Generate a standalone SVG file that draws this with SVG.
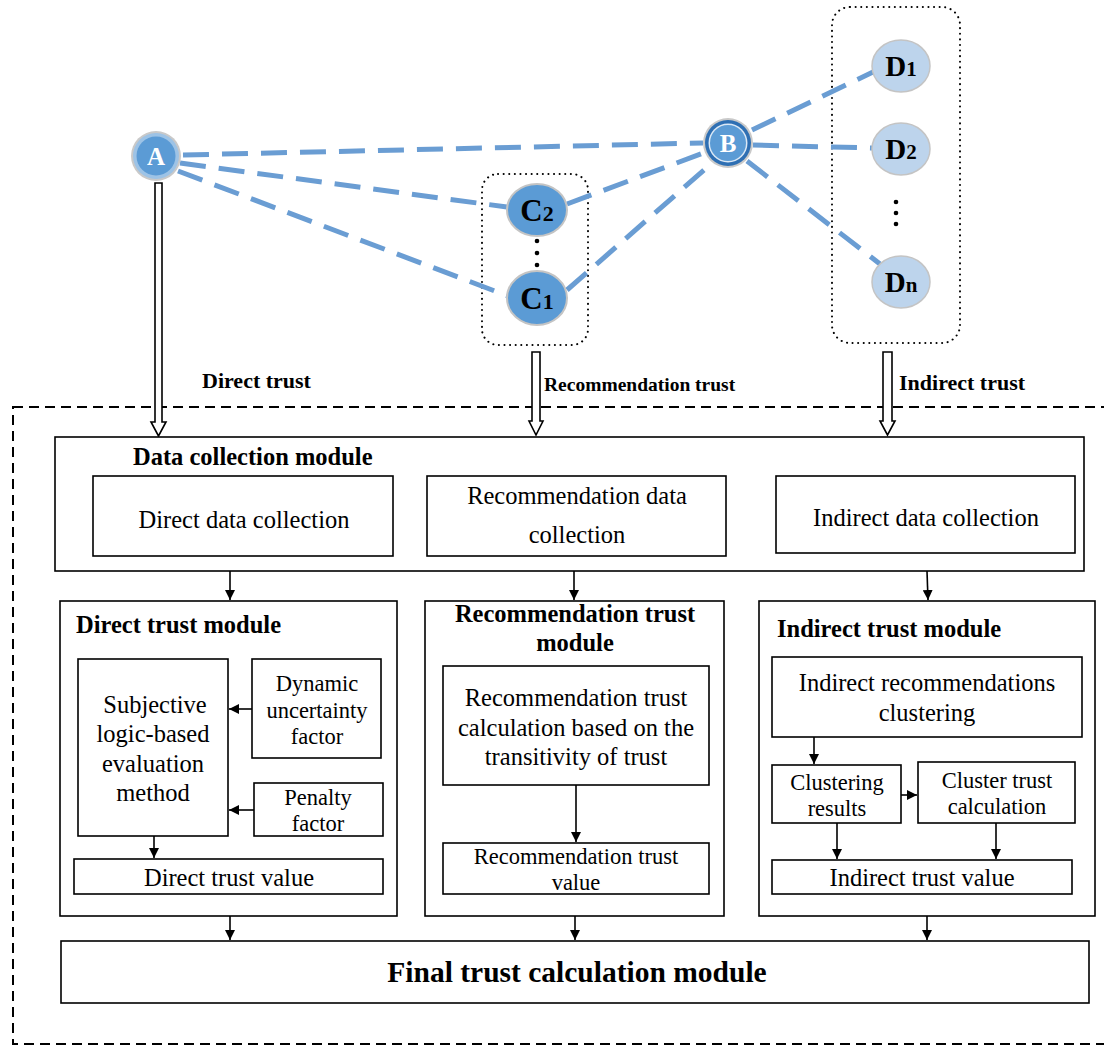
<svg xmlns="http://www.w3.org/2000/svg" width="1104" height="1046" viewBox="0 0 1104 1046">
  <defs>
    <marker id="ah" viewBox="0 0 10 10" refX="10" refY="5" markerWidth="10" markerHeight="10" markerUnits="userSpaceOnUse" orient="auto">
      <path d="M0,0 L10,5 L0,10 z" fill="#000"/>
    </marker>
    <style>
      .box { fill: #fff; stroke: #000; stroke-width: 1.6; }
      .t { font-family: "Liberation Serif", "Times New Roman", serif; fill: #000; }
      .r20 { font-size: 24.5px; }
      .r18 { font-size: 22.5px; }
      .b20 { font-size: 24.5px; font-weight: bold; }
      .b18 { font-size: 22px; font-weight: bold; }
      .mid { text-anchor: middle; }
      .conn { stroke: #000; stroke-width: 1.6; fill: none; marker-end: url(#ah); }
      .link { stroke: #6a9dd3; stroke-width: 5; stroke-dasharray: 26 13; fill: none; }
      .dotted { fill: none; stroke: #000; stroke-width: 2; stroke-dasharray: 0.1 5.5; stroke-linecap: round; }
      .hollow { fill: #fff; stroke: #000; stroke-width: 1.6; }
      .nodeLbl { font-family: "Liberation Serif", "Times New Roman", serif; font-weight: bold; text-anchor: middle; }
    </style>
  </defs>

  <!-- outer dashed frame -->
  <rect x="13" y="407" width="1100" height="637" fill="none" stroke="#000" stroke-width="2" stroke-dasharray="10 6"/>

  <!-- group containers -->
  <rect id="groupC" x="482" y="174" width="106" height="171" rx="16" class="dotted"/>
  <rect id="groupD" x="832" y="7" width="128" height="336" rx="18" class="dotted"/>

  <!-- trust links -->
  <g id="links">
    <line class="link" x1="183" y1="155" x2="703" y2="143"/>
    <line class="link" x1="180" y1="163" x2="507" y2="207"/>
    <line class="link" x1="178" y1="171" x2="508" y2="296"/>
    <line class="link" x1="567" y1="204" x2="706" y2="152"/>
    <line class="link" x1="567" y1="290" x2="712" y2="163"/>
    <line class="link" x1="752" y1="130" x2="873" y2="72"/>
    <line class="link" x1="753" y1="145" x2="872" y2="148"/>
    <line class="link" x1="747" y1="161" x2="880" y2="264"/>
  </g>

  <!-- peer nodes -->
  <g id="nodeA">
    <circle cx="156" cy="156" r="25" fill="#c9c9c9"/>
    <circle cx="156" cy="156" r="23" fill="#9dc3e6"/>
    <circle cx="156" cy="156" r="19.5" fill="#5b9bd5"/>
    <text x="156" y="165" class="nodeLbl" font-size="25" fill="#fff">A</text>
  </g>
  <g id="nodeB">
    <circle cx="728" cy="143" r="25" fill="#c9c9c9"/>
    <circle cx="728" cy="143" r="23" fill="#2e6fb3"/>
    <circle cx="728" cy="143" r="19.5" fill="#dbe8f5"/>
    <circle cx="728" cy="143" r="18" fill="#5b9bd5"/>
    <text x="728" y="152" class="nodeLbl" font-size="25" fill="#fff">B</text>
  </g>
  <g id="nodeC2">
    <ellipse cx="537" cy="210" rx="30" ry="26" fill="#5b9bd5" stroke="#c4c4c4" stroke-width="2"/>
    <text x="537" y="221" class="nodeLbl" font-size="31" fill="#000">C<tspan font-size="22">2</tspan></text>
  </g>
  <g id="dotsC" fill="#000">
    <circle cx="537" cy="241" r="2.3"/>
    <circle cx="537" cy="253" r="2.3"/>
    <circle cx="537" cy="265" r="2.3"/>
  </g>
  <g id="nodeC1">
    <ellipse cx="537" cy="298" rx="30" ry="27" fill="#5b9bd5" stroke="#c4c4c4" stroke-width="2"/>
    <text x="537" y="309" class="nodeLbl" font-size="31" fill="#000">C<tspan font-size="22">1</tspan></text>
  </g>
  <g id="nodeD1">
    <ellipse cx="901" cy="66" rx="29" ry="26" fill="#bdd4ec" stroke="#c4c4c4" stroke-width="1.5"/>
    <text x="901" y="76" class="nodeLbl" font-size="29" fill="#000">D<tspan font-size="21">1</tspan></text>
  </g>
  <g id="nodeD2">
    <ellipse cx="901" cy="149" rx="29" ry="26" fill="#bdd4ec" stroke="#c4c4c4" stroke-width="1.5"/>
    <text x="901" y="159" class="nodeLbl" font-size="29" fill="#000">D<tspan font-size="21">2</tspan></text>
  </g>
  <g id="dotsD" fill="#000">
    <circle cx="896" cy="202" r="2.3"/>
    <circle cx="896" cy="213" r="2.3"/>
    <circle cx="896" cy="224" r="2.3"/>
  </g>
  <g id="nodeDn">
    <ellipse cx="901" cy="282" rx="29" ry="26" fill="#bdd4ec" stroke="#c4c4c4" stroke-width="1.5"/>
    <text x="901" y="292" class="nodeLbl" font-size="29" fill="#000">D<tspan font-size="21">n</tspan></text>
  </g>

  <!-- hollow input arrows -->
  <g id="inputArrows">
    <path class="hollow" d="M155,183 L162,183 L162,422 L166,422 L158.5,436 L151,422 L155,422 z"/>
    <path class="hollow" d="M532,352 L540,352 L540,421 L543,421 L536,435 L529,421 L532,421 z"/>
    <path class="hollow" d="M883,352 L892,352 L892,421 L895,421 L887.5,435 L880,421 L883,421 z"/>
  </g>
  <text x="202" y="388" class="t b18">Direct trust</text>
  <text x="544" y="391" class="t" font-size="19.5" font-weight="bold">Recommendation trust</text>
  <text x="899" y="390" class="t b18">Indirect trust</text>

  <!-- data collection module -->
  <g id="dataCollection">
    <rect x="55" y="437" width="1029" height="134" class="box"/>
    <text x="133" y="465" class="t b20">Data collection module</text>
    <rect x="93" y="476" width="300" height="80" class="box"/>
    <text x="244" y="528" class="t r20 mid">Direct data collection</text>
    <rect x="427" y="476" width="299" height="80" class="box"/>
    <text x="577" y="504" class="t r20 mid">Recommendation data</text>
    <text x="577" y="543" class="t r20 mid">collection</text>
    <rect x="776" y="476" width="299" height="77" class="box"/>
    <text x="926" y="526" class="t r20 mid">Indirect data collection</text>
  </g>

  <!-- direct trust module -->
  <g id="directTrust">
    <rect x="60" y="601" width="337" height="315" class="box"/>
    <text x="76" y="633" class="t b20">Direct trust module</text>
    <rect x="78" y="659" width="150" height="177" class="box"/>
    <text x="155" y="713" class="t r20 mid">Subjective</text>
    <text x="153" y="742" class="t r20 mid">logic-based</text>
    <text x="153" y="772" class="t r20 mid">evaluation</text>
    <text x="153" y="801" class="t r20 mid">method</text>
    <rect x="252" y="659" width="129" height="99" class="box"/>
    <text x="317" y="691" class="t r18 mid">Dynamic</text>
    <text x="317" y="718" class="t r18 mid">uncertainty</text>
    <text x="317" y="744" class="t r18 mid">factor</text>
    <rect x="254" y="783" width="129" height="53" class="box"/>
    <text x="318" y="805" class="t r18 mid">Penalty</text>
    <text x="318" y="831" class="t r18 mid">factor</text>
    <rect x="74" y="859" width="309" height="35" class="box"/>
    <text x="229" y="886" class="t r20 mid">Direct trust value</text>
  </g>

  <!-- recommendation trust module -->
  <g id="recommendationTrust">
    <rect x="425" y="601" width="299" height="315" class="box"/>
    <text x="575" y="622" class="t b20 mid">Recommendation trust</text>
    <text x="575" y="651" class="t b20 mid">module</text>
    <rect x="443" y="666" width="266" height="119" class="box"/>
    <text x="576" y="706" class="t r20 mid">Recommendation trust</text>
    <text x="576" y="736" class="t r20 mid">calculation based on the</text>
    <text x="576" y="765" class="t r20 mid">transitivity of trust</text>
    <rect x="443" y="843" width="266" height="51" class="box"/>
    <text x="576" y="864" class="t r18 mid">Recommendation trust</text>
    <text x="576" y="890" class="t r18 mid">value</text>
  </g>

  <!-- indirect trust module -->
  <g id="indirectTrust">
    <rect x="759" y="601" width="336" height="315" class="box"/>
    <text x="777" y="637" class="t b20">Indirect trust module</text>
    <rect x="772" y="657" width="310" height="80" class="box"/>
    <text x="927" y="691" class="t r20 mid">Indirect recommendations</text>
    <text x="927" y="721" class="t r20 mid">clustering</text>
    <rect x="772" y="765" width="129" height="58" class="box"/>
    <text x="837" y="790" class="t r18 mid">Clustering</text>
    <text x="837" y="816" class="t r18 mid">results</text>
    <rect x="918" y="762" width="157" height="61" class="box"/>
    <text x="997" y="788" class="t r18 mid">Cluster trust</text>
    <text x="997" y="814" class="t r18 mid">calculation</text>
    <rect x="772" y="860" width="300" height="34" class="box"/>
    <text x="922" y="886" class="t r20 mid">Indirect trust value</text>
  </g>

  <!-- final module -->
  <g id="finalTrust">
    <rect x="61" y="941" width="1028" height="62" class="box"/>
    <text x="577" y="982" class="t mid" font-size="29.5" font-weight="bold">Final trust calculation module</text>
  </g>

  <!-- flow connectors -->
  <g id="connectors">
    <line class="conn" x1="230" y1="571" x2="230" y2="600"/>
    <line class="conn" x1="574" y1="571" x2="574" y2="600"/>
    <line class="conn" x1="927" y1="571" x2="928" y2="600"/>
    <line class="conn" x1="252" y1="709" x2="229" y2="709"/>
    <line class="conn" x1="254" y1="810" x2="229" y2="810"/>
    <line class="conn" x1="154" y1="836" x2="154" y2="858"/>
    <line class="conn" x1="576" y1="785" x2="576" y2="842"/>
    <line class="conn" x1="814" y1="737" x2="814" y2="764"/>
    <line class="conn" x1="901" y1="795" x2="917" y2="795"/>
    <line class="conn" x1="837" y1="823" x2="837" y2="859"/>
    <line class="conn" x1="996" y1="823" x2="996" y2="859"/>
    <line class="conn" x1="230" y1="916" x2="230" y2="940"/>
    <line class="conn" x1="575" y1="916" x2="575" y2="940"/>
    <line class="conn" x1="927" y1="916" x2="927" y2="940"/>
  </g>
</svg>
